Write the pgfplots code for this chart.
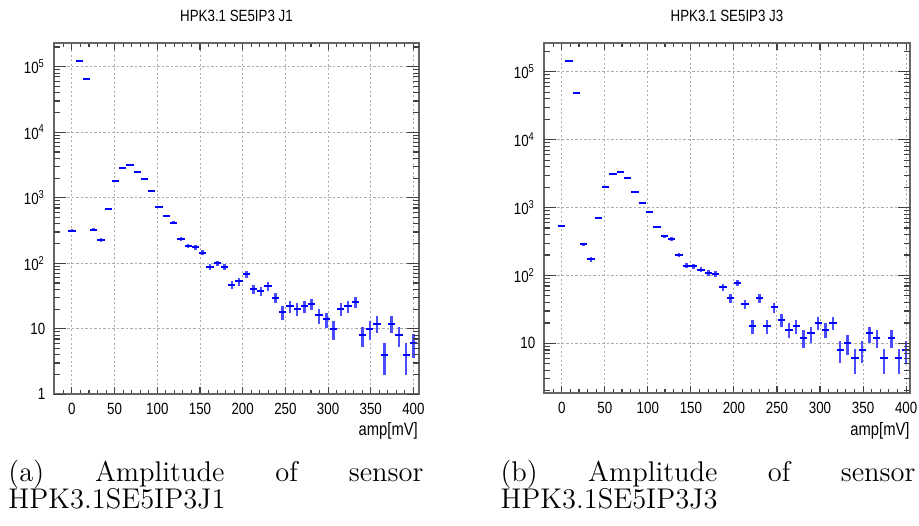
\documentclass[border=0pt]{standalone}
\usepackage{fontspec}
\usepackage{pgfplots}
\usepackage{pgfplotstable}
\pgfplotsset{compat=1.18}
\newfontfamily\rootfont[FakeStretch=0.82]{Liberation Sans}
\newcommand\rootsize{\fontsize{6.5pt}{7pt}\rootfont}

% bin centre, counts, sqrt(counts)
\pgfplotstableread{
x y e
0 316 17.8
8.51 123000 351
17.02 66000 257
25.53 325 18.0
34.04 230 15.2
42.55 676 26.0
51.06 1820 42.7
59.57 2820 53.1
68.09 3150 56.1
76.60 2460 49.6
85.11 1960 44.3
93.62 1260 35.5
102.13 730 27.0
110.64 528 23.0
119.15 417 20.4
127.66 234 15.3
136.17 183 13.5
144.68 175 13.2
153.19 145 12.0
161.70 87 9.3
170.21 100 10.0
178.72 87 9.3
187.23 47 6.9
195.74 53 7.3
204.26 69 8.3
212.77 40 6.3
221.28 38 6.2
229.79 45 6.7
238.30 30 5.5
246.81 18 4.2
255.32 22 4.7
263.83 20 4.5
272.34 22 4.7
280.85 24 4.9
289.36 16 4.0
297.87 14 3.7
306.38 10 3.2
314.89 20 4.5
323.40 22 4.7
331.91 26 5.1
340.43 8 2.8
348.94 10 3.2
357.45 12 3.5
365.96 4 2.0
374.47 12 3.5
382.98 8 2.8
391.49 4 2.0
400.00 6 2.4
}\jone

\pgfplotstableread{
x y e
0 537 23.2
8.51 142000 377
17.02 49000 221
25.53 288 17.0
34.04 173 13.2
42.55 706 26.6
51.06 2000 44.7
59.57 3080 55.5
68.09 3370 58.1
76.60 2700 52.0
85.11 1700 41.2
93.62 1170 34.2
102.13 875 29.6
110.64 518 22.8
119.15 382 19.5
127.66 345 18.6
136.17 200 14.1
144.68 139 11.8
153.19 138 11.7
161.70 122 11.0
170.21 109 10.4
178.72 105 10.2
187.23 67 8.2
195.74 46 6.8
204.26 78 8.8
212.77 38 6.2
221.28 18 4.2
229.79 46 6.8
238.30 18 4.2
246.81 34 5.8
255.32 22 4.7
263.83 16 4.0
272.34 18 4.2
280.85 12 3.5
289.36 14 3.7
297.87 20 4.5
306.38 16 4.0
314.89 20 4.5
323.40 8 2.8
331.91 10 3.2
340.43 6 2.4
348.94 8 2.8
357.45 14 3.7
365.96 12 3.5
374.47 6 2.4
382.98 12 3.5
391.49 6 2.4
400.00 8 2.8
}\jthree

\begin{document}
\begin{tikzpicture}
\path[use as bounding box] (0,0) rectangle (367.6pt,-210pt);

% ---- left: J1 (frame, grid, x ticks, data)
\begin{semilogyaxis}[at={(21.6pt,-157.72pt)}, anchor=south west,
  scale only axis, width=146pt, height=140.64pt,
  xmin=-21, xmax=406.5, ymin=1, ymax=2.33e5,
  axis line style={black!60, line width=0.7pt},
  tick style={black!75, line width=0.45pt}, tick align=inside,
  major tick length=2.8pt, minor tick length=1.6pt,
  xtick={0,50,100,150,200,250,300,350,400},
  xticklabels={0,50,100,150,200,250,300,350,400},
  minor xtick={-20,-10,...,400},
  ytick={1,10,100,1000,10000,100000}, yticklabels={},
  ytick style={draw=none},
  xmajorgrids, ymajorgrids,
  major grid style={gray!65, line width=0.4pt, dash pattern=on 0.9pt off 0.9pt},
  xticklabel style={font=\rootsize}]
  \addplot[draw=none, mark=none, error bars/y dir=both, error bars/y explicit,
    error bars/error mark=none,
    error bars/error bar style={draw=blue!70, solid, line width=1pt}]
    table[x=x, y=y, y error=e] {\jone};
  \addplot[draw=none, mark=none, error bars/x dir=both, error bars/x fixed=4.255,
    error bars/error mark=none,
    error bars/error bar style={draw=blue, solid, line width=0.8pt}]
    table[x=x, y=y] {\jone};
\end{semilogyaxis}
% y ticks (longer, as in ROOT) and y labels
\begin{semilogyaxis}[at={(21.6pt,-157.72pt)}, anchor=south west,
  scale only axis, width=146pt, height=140.64pt,
  xmin=-21, xmax=406.5, ymin=1, ymax=2.33e5,
  axis line style={draw=none},
  tick style={black!75, line width=0.45pt}, tick align=inside,
  major tick length=4.8pt, minor tick length=2.4pt,
  xtick=\empty,
  ytick={1,10,100,1000,10000,100000},
  minor ytick={2,3,4,5,6,7,8,9,20,30,40,50,60,70,80,90,200,300,400,500,600,700,800,900,2000,3000,4000,5000,6000,7000,8000,9000,20000,30000,40000,50000,60000,70000,80000,90000,200000},
  yticklabels={1,10,10\textsuperscript{2},10\textsuperscript{3},10\textsuperscript{4},10\textsuperscript{5}},
  yticklabel style={font=\rootsize}]
\end{semilogyaxis}

% ---- right: J3
\begin{semilogyaxis}[at={(217.6pt,-157.32pt)}, anchor=south west,
  scale only axis, width=146.4pt, height=140.24pt,
  xmin=-20.6, xmax=404.5, ymin=1.84, ymax=2.68e5,
  axis line style={black!60, line width=0.7pt},
  tick style={black!75, line width=0.45pt}, tick align=inside,
  major tick length=2.8pt, minor tick length=1.6pt,
  xtick={0,50,100,150,200,250,300,350,400},
  xticklabels={0,50,100,150,200,250,300,350,400},
  minor xtick={-20,-10,...,400},
  ytick={10,100,1000,10000,100000}, yticklabels={},
  ytick style={draw=none},
  xmajorgrids, ymajorgrids,
  major grid style={gray!65, line width=0.4pt, dash pattern=on 0.9pt off 0.9pt},
  xticklabel style={font=\rootsize}]
  \addplot[draw=none, mark=none, error bars/y dir=both, error bars/y explicit,
    error bars/error mark=none,
    error bars/error bar style={draw=blue!70, solid, line width=1pt}]
    table[x=x, y=y, y error=e] {\jthree};
  \addplot[draw=none, mark=none, error bars/x dir=both, error bars/x fixed=4.255,
    error bars/error mark=none,
    error bars/error bar style={draw=blue, solid, line width=0.8pt}]
    table[x=x, y=y] {\jthree};
\end{semilogyaxis}
\begin{semilogyaxis}[at={(217.6pt,-157.32pt)}, anchor=south west,
  scale only axis, width=146.4pt, height=140.24pt,
  xmin=-20.6, xmax=404.5, ymin=1.84, ymax=2.68e5,
  axis line style={draw=none},
  tick style={black!75, line width=0.45pt}, tick align=inside,
  major tick length=4.8pt, minor tick length=2.4pt,
  xtick=\empty,
  ytick={10,100,1000,10000,100000},
  minor ytick={2,3,4,5,6,7,8,9,20,30,40,50,60,70,80,90,200,300,400,500,600,700,800,900,2000,3000,4000,5000,6000,7000,8000,9000,20000,30000,40000,50000,60000,70000,80000,90000,200000},
  yticklabels={10,10\textsuperscript{2},10\textsuperscript{3},10\textsuperscript{4},10\textsuperscript{5}},
  yticklabel style={font=\rootsize}]
\end{semilogyaxis}

% titles and axis labels
\node[anchor=base, inner sep=0, font=\rootsize] at (94.6pt,-8.68pt) {HPK3.1 SE5IP3 J1};
\node[anchor=base, inner sep=0, font=\rootsize] at (290.8pt,-8.68pt) {HPK3.1 SE5IP3 J3};
\node[anchor=base east, inner sep=0, font=\fontsize{7.2pt}{8pt}\rootfont] at (167.3pt,-174pt) {amp[mV]};
\node[anchor=base east, inner sep=0, font=\fontsize{7.2pt}{8pt}\rootfont] at (364pt,-174pt) {amp[mV]};

% sub-captions
\node[anchor=base west, inner sep=0] at (3.2pt,-192.4pt) {\fontsize{11.4pt}{12pt}\selectfont\makebox[166pt][s]{(a) Amplitude of sensor}};
\node[anchor=base west, inner sep=0] at (3.2pt,-203.3pt) {\fontsize{11.4pt}{12pt}\selectfont HPK3.1SE5IP3J1};
\node[anchor=base west, inner sep=0] at (200pt,-192.4pt) {\fontsize{11.4pt}{12pt}\selectfont\makebox[166pt][s]{(b) Amplitude of sensor}};
\node[anchor=base west, inner sep=0] at (200pt,-203.3pt) {\fontsize{11.4pt}{12pt}\selectfont HPK3.1SE5IP3J3};
\end{tikzpicture}
\end{document}
